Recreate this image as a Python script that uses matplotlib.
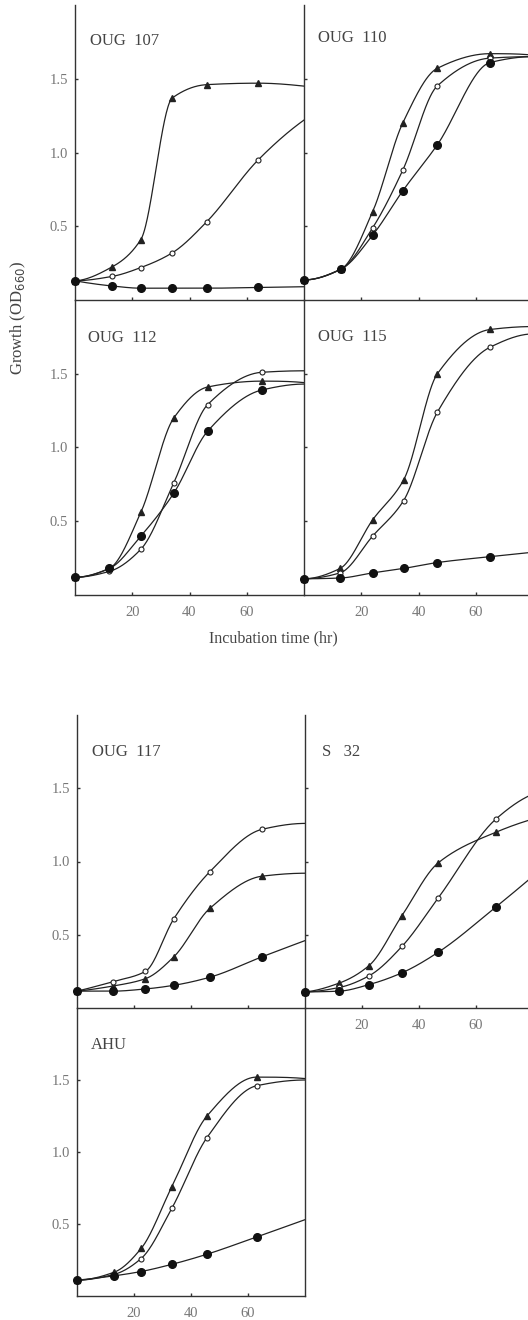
import numpy as np
import matplotlib
matplotlib.use("Agg")
import matplotlib.pyplot as plt

plt.rcParams['font.family'] = ['Liberation Serif', 'DejaVu Serif']

# ---------------- data (hours, OD660) ----------------
# each series: marker times, marker values, and the curve end value at 80 h
t_107 = [0, 13, 23, 34, 46, 64]
tri_107 = [0.13, 0.225, 0.41, 1.37, 1.46, 1.47]
open_107 = [0.13, 0.16, 0.22, 0.32, 0.53, 0.95]
fill_107 = [0.13, 0.095, 0.08, 0.08, 0.08, 0.085]
end_107 = [1.45, 1.22, 0.09]

t_110 = [0, 13, 24, 34.5, 46.5, 65]
tri_110 = [0.136, 0.21, 0.60, 1.20, 1.57, 1.67]
open_110 = [0.136, 0.21, 0.49, 0.88, 1.45, 1.64]
fill_110 = [0.136, 0.21, 0.44, 0.74, 1.05, 1.61]
end_110 = [1.66, 1.65, 1.65]

t_112 = [0, 12, 23, 34.5, 46.3, 65.3]
tri_112 = [0.12, 0.18, 0.56, 1.20, 1.41, 1.45]
open_112 = [0.12, 0.16, 0.31, 0.76, 1.29, 1.51]
fill_112 = [0.12, 0.18, 0.40, 0.69, 1.11, 1.39]
end_112 = [1.44, 1.52, 1.43]

t_115 = [0, 12.6, 24, 34.8, 46.6, 65]
tri_115 = [0.11, 0.18, 0.51, 0.78, 1.50, 1.80]
open_115 = [0.11, 0.15, 0.40, 0.64, 1.24, 1.68]
fill_115 = [0.11, 0.115, 0.15, 0.18, 0.22, 0.26]
end_115 = [1.82, 1.77, 0.29]

t_117 = [0, 12.6, 24, 34, 46.6, 65]
tri_117 = [0.115, 0.15, 0.20, 0.35, 0.68, 0.90]
open_117 = [0.115, 0.18, 0.25, 0.61, 0.93, 1.22]
fill_117 = [0.115, 0.115, 0.13, 0.155, 0.21, 0.35]
end_117 = [0.92, 1.26, 0.46]

t_s32 = [0, 12, 22.5, 34, 46.7, 67]
tri_s32 = [0.11, 0.17, 0.29, 0.63, 0.99, 1.20]
open_s32 = [0.11, 0.14, 0.22, 0.42, 0.75, 1.29]
fill_s32 = [0.11, 0.115, 0.16, 0.24, 0.38, 0.69]
end_s32 = [1.29, 1.46, 0.90]

t_ahu = [0, 13, 22.5, 33.3, 45.6, 63]
tri_ahu = [0.11, 0.165, 0.33, 0.76, 1.25, 1.52]
open_ahu = [0.11, 0.15, 0.26, 0.61, 1.10, 1.46]
fill_ahu = [0.11, 0.14, 0.17, 0.22, 0.29, 0.41]
end_ahu = [1.51, 1.50, 0.53]

strains = ["OUG  107", "OUG  110", "OUG  112", "OUG  115", "OUG  117", "S   32", "AHU"]
x_ticks = [20, 40, 60]
y_ticks = [0.5, 1.0, 1.5]
y_tick_labels = ["0.5", "1.0", "1.5"]
T_END = 80


def _end_slope(h0, h1, d0, d1):
    m = ((2 * h0 + h1) * d0 - h0 * d1) / (h0 + h1)
    if np.sign(m) != np.sign(d0):
        return 0.0
    if np.sign(d0) != np.sign(d1) and abs(m) > 3 * abs(d0):
        return 3 * d0
    return m


def pchip(x, y, xn):
    x = np.asarray(x, float); y = np.asarray(y, float)
    h = np.diff(x); d = np.diff(y) / h
    n = len(x); m = np.zeros(n)
    for k in range(1, n - 1):
        if d[k - 1] * d[k] <= 0:
            m[k] = 0
        else:
            w1 = 2 * h[k] + h[k - 1]; w2 = h[k] + 2 * h[k - 1]
            m[k] = (w1 + w2) / (w1 / d[k - 1] + w2 / d[k])
    m[0] = _end_slope(h[0], h[1], d[0], d[1])
    m[-1] = _end_slope(h[-1], h[-2], d[-1], d[-2])
    idx = np.clip(np.searchsorted(x, xn) - 1, 0, n - 2)
    hh = h[idx]; s = (xn - x[idx]) / hh
    h00 = 2 * s**3 - 3 * s**2 + 1; h10 = s**3 - 2 * s**2 + s
    h01 = -2 * s**3 + 3 * s**2; h11 = s**3 - s**2
    return h00 * y[idx] + h10 * hh * m[idx] + h01 * y[idx + 1] + h11 * hh * m[idx + 1]


panels = [
    (t_107, [tri_107, open_107, fill_107], end_107),
    (t_110, [tri_110, open_110, fill_110], end_110),
    (t_112, [tri_112, open_112, fill_112], end_112),
    (t_115, [tri_115, open_115, fill_115], end_115),
    (t_117, [tri_117, open_117, fill_117], end_117),
    (t_s32, [tri_s32, open_s32, fill_s32], end_s32),
    (t_ahu, [tri_ahu, open_ahu, fill_ahu], end_ahu),
]

W, H = 528, 1320
fig = plt.figure(figsize=(W / 100, H / 100), dpi=100)

def add_ax(left, top, right, bottom):
    return fig.add_axes([left / W, 1 - bottom / H, (right - left) / W, (bottom - top) / H])

# pixel boxes (left, top, right, bottom)
boxes = [
    (75, 5, 304, 300),
    (304, 5, 533, 300),
    (75, 300, 304, 595),
    (304, 300, 533, 595),
    (77, 715, 305, 1008),
    (305, 715, 533, 1008),
    (77, 1008, 305, 1296),
]
label_pos = [(90, 41), (318, 38), (88, 338), (318, 337), (92, 752), (322, 752), (91, 1045)]
show_y = [True, False, True, False, True, False, True]
show_x = [False, False, True, True, False, True, True]

line_col = '#222222'
text_col = '#444444'
tick_col = '#777777'

styles = [
    dict(marker='^', ms=4.2, mfc=line_col, mec=line_col),
    dict(marker='o', ms=3.6, mfc='white', mec=line_col, mew=0.8),
    dict(marker='o', ms=5.5, mfc='#111111', mec='#111111'),
]

for i, (box, (t, series, ends)) in enumerate(zip(boxes, panels)):
    ax = add_ax(*box)
    ax.patch.set_visible(False)
    ax.set_xlim(0, 80)
    ax.set_ylim(0, 2.0)
    for s, (vals, endv, st) in enumerate(zip(series, ends, styles)):
        tx = list(t) + [T_END]
        vy = list(vals) + [endv]
        xs = np.linspace(0, T_END, 400)
        ax.plot(xs, pchip(tx, vy, xs), color=line_col, lw=0.9, zorder=2)
        ax.plot(t, vals, ls='none', zorder=3 + s, clip_on=False, **st)
    for side in ['top', 'right']:
        ax.spines[side].set_visible(False)
    if i == 6:
        ax.spines['right'].set_visible(True)
    for sp in ax.spines.values():
        sp.set_color('#333333'); sp.set_linewidth(1.0)
    ax.set_xticks(x_ticks)
    ax.set_yticks(y_ticks)
    ax.tick_params(direction='in', length=2.5, width=1, color='#333333',
                   labelcolor=tick_col, labelsize=10.5)
    ax.tick_params(axis='x', pad=8)
    ax.tick_params(axis='y', pad=5)
    if show_y[i]:
        ax.set_yticklabels(y_tick_labels)
    else:
        ax.set_yticklabels([])
    if show_x[i]:
        ax.set_xticklabels([str(v) for v in x_ticks])
    else:
        ax.set_xticklabels([])
    fig.text(label_pos[i][0] / W, 1 - label_pos[i][1] / H, strains[i],
             ha='left', va='center', fontsize=12, color=text_col)

fig.text(273 / W, 1 - 638 / H, "Incubation time (hr)", ha='center', va='center',
         fontsize=11.5, color=text_col)
fig.text(18 / W, 1 - 318 / H, "Growth (OD$_{660}$)", ha='center', va='center',
         rotation=90, fontsize=12, color=text_col)

fig.savefig("out.png", dpi=100, facecolor='white')
